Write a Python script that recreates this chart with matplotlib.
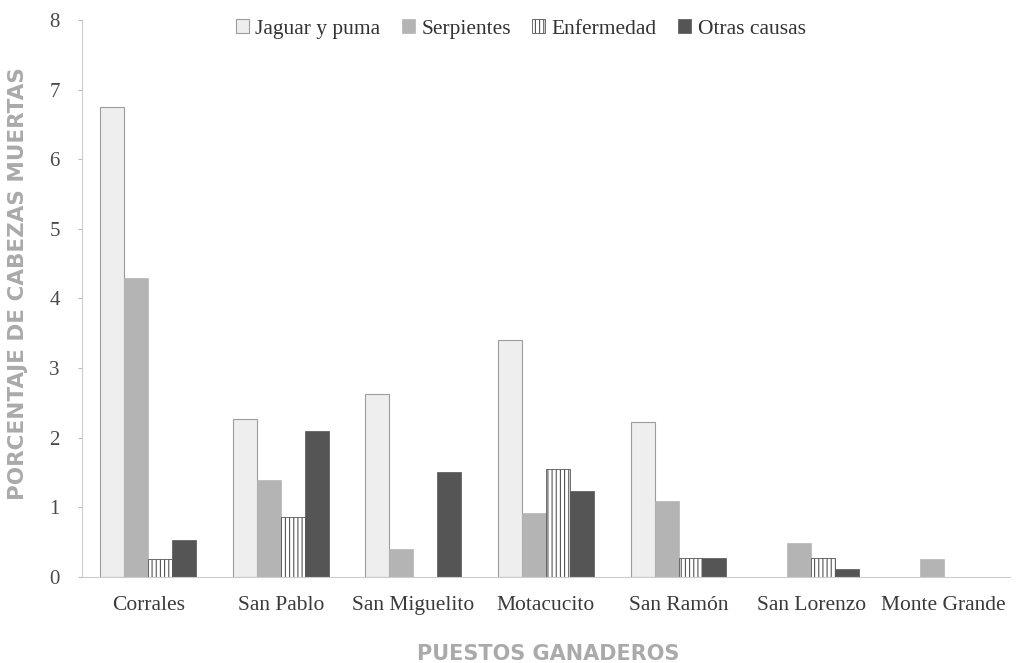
import numpy as np
import matplotlib
matplotlib.use('Agg')
import matplotlib.pyplot as plt

# Data
puestos = ['Corrales', 'San Pablo', 'San Miguelito', 'Motacucito',
           'San Ramón', 'San Lorenzo', 'Monte Grande']
jaguar_puma = [6.75, 2.27, 2.63, 3.41, 2.22, 0.0, 0.0]
serpientes = [4.30, 1.40, 0.40, 0.92, 1.09, 0.49, 0.26]
enfermedad = [0.26, 0.86, 0.0, 1.55, 0.27, 0.27, 0.0]
otras_causas = [0.53, 2.09, 1.51, 1.24, 0.27, 0.12, 0.0]
y_ticks = [0, 1, 2, 3, 4, 5, 6, 7, 8]

serif = ['Liberation Serif', 'DejaVu Serif']
plt.rcParams['hatch.linewidth'] = 0.8

fig = plt.figure(figsize=(10.16, 6.63), dpi=100)
ax = fig.add_axes([0.0807, 0.1297, 0.9133, 0.8403])

x = np.arange(len(puestos))
w = 0.181

def nonzero(vals):
    # leave out bars of height zero so no stray outline is drawn
    return [v if v > 0 else np.nan for v in vals]

ax.bar(x - 1.5 * w, nonzero(jaguar_puma), w, color='#eeeeee',
       edgecolor='#9c9c9c', linewidth=0.8, label='Jaguar y puma')
ax.bar(x - 0.5 * w, nonzero(serpientes), w, color='#b4b4b4',
       edgecolor='#b4b4b4', linewidth=0.5, label='Serpientes')
ax.bar(x + 0.5 * w, nonzero(enfermedad), w, color='white',
       edgecolor='#555555', hatch='||||', linewidth=0.6, label='Enfermedad')
ax.bar(x + 1.5 * w, nonzero(otras_causas), w, color='#555555',
       edgecolor='#555555', linewidth=0.5, label='Otras causas')

ax.set_xlim(-0.5, len(puestos) - 0.5)
ax.set_ylim(0, 8)
ax.set_yticks(y_ticks)
ax.set_xticks(x)
ax.set_xticklabels(puestos, fontfamily=serif, fontsize=15.5, color='#3a3a3a')
ax.set_yticklabels([str(t) for t in y_ticks], fontfamily=serif,
                   fontsize=15, color='#4a4a4a')
ax.tick_params(axis='x', length=0, pad=14)
ax.tick_params(axis='y', length=3, color='#bbbbbb', pad=13)

for side in ['top', 'right']:
    ax.spines[side].set_visible(False)
ax.spines['left'].set_color('#cccccc')
ax.spines['bottom'].set_color('#cccccc')

ax.set_ylabel('PORCENTAJE DE CABEZAS MUERTAS', fontsize=15.5,
              fontweight='bold', color='#aaaaaa')
ax.yaxis.set_label_coords(-0.058, 0.527)
ax.set_xlabel('PUESTOS GANADEROS', fontsize=15, fontweight='bold',
              color='#aaaaaa')
ax.xaxis.set_label_coords(0.502, -0.121)

ax.legend(loc='upper center', bbox_to_anchor=(0.473, 1.036), ncol=4,
          frameon=False, prop={'family': serif, 'size': 15.5},
          handlelength=0.6, handleheight=0.6, handletextpad=0.3,
          columnspacing=1.0, labelcolor='#333333')

fig.savefig('out.png', dpi=100)
